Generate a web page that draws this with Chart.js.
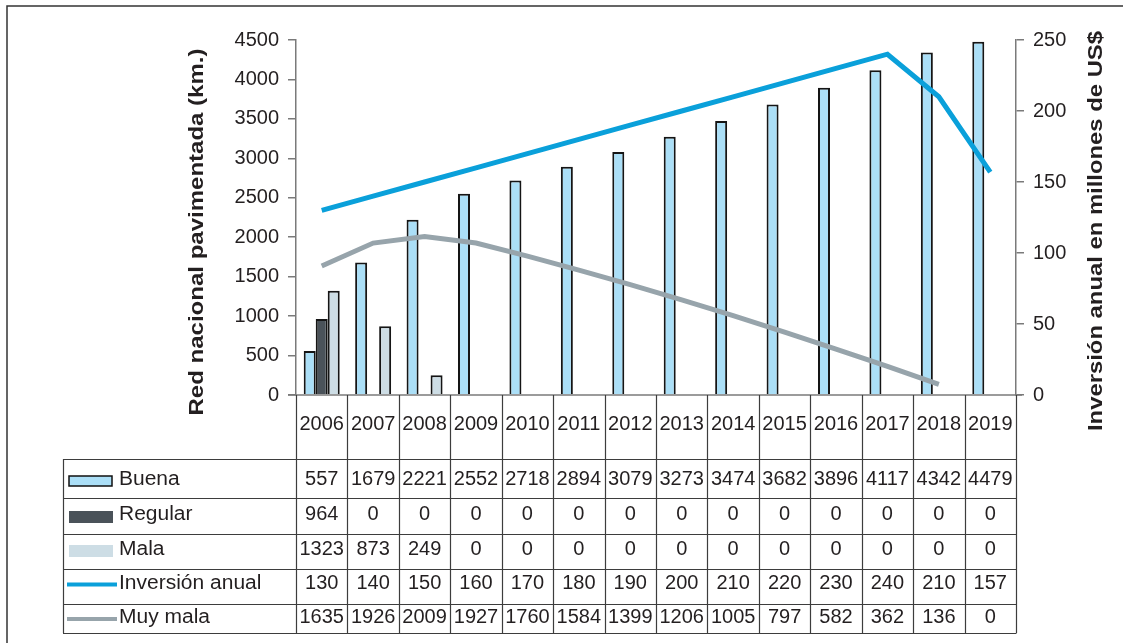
<!DOCTYPE html>
<html>
<head>
<meta charset="utf-8">
<script src="https://cdn.jsdelivr.net/npm/chart.js@4.4.1/dist/chart.umd.min.js"></script>
<style>
  html, body { margin: 0; padding: 0; background: #ffffff; }
  #wrap { width: 1123px; height: 643px; position: relative; }
</style>
</head>
<body>
<div id="wrap"><canvas id="chart" width="1123" height="643"></canvas></div>
<script>
// ---- data ----
const years = ['2006', '2007', '2008', '2009', '2010', '2011', '2012', '2013', '2014', '2015', '2016', '2017', '2018', '2019'];
const buena = [557, 1679, 2221, 2552, 2718, 2894, 3079, 3273, 3474, 3682, 3896, 4117, 4342, 4479];
const regular = [964, 0, 0, 0, 0, 0, 0, 0, 0, 0, 0, 0, 0, 0];
const mala = [1323, 873, 249, 0, 0, 0, 0, 0, 0, 0, 0, 0, 0, 0];
const inversion = [130, 140, 150, 160, 170, 180, 190, 200, 210, 220, 230, 240, 210, 157];
const muyMala = [1635, 1926, 2009, 1927, 1760, 1584, 1399, 1206, 1005, 797, 582, 362, 136, 0];

const kmAxis = { min: 0, max: 4500, step: 500 };
const usdAxis = { min: 0, max: 250, step: 50 };

const seriesNames = ['Buena', 'Regular', 'Mala', 'Inversión anual', 'Muy mala'];
const tableRows = [buena, regular, mala, inversion, muyMala];

const leftTitle = 'Red nacional pavimentada (km.)';
const rightTitle = 'Inversión anual en millones de US$';

// The "muy mala" line stops at the last year that still has km in that state.
const muyMalaLine = muyMala.map((v, i) => (i === muyMala.length - 1 && v === 0) ? null : v);

// ---- styling ----
const FONT = '"Liberation Sans", Arial, Helvetica, sans-serif';
const TEXT = '#231f20';
const RULE = '#3d3d3d';
const AXIS = '#7a7a7a';
const C_BUENA = '#abdff7';
const C_REGULAR = '#4a5259';
const C_MALA = '#cddde5';
const C_INV = '#0aa0da';
const C_MUY = '#97a4ab';

// Table geometry (header row with years, then one row per series)
const TABLE = {
  headerBottom: 459,
  rowLines: [459, 498, 534, 569, 604, 633],
  rowText: [479, 514, 549, 583, 617],
  yearText: 424,
  left: 63,
  keyX: 69,
  keyW: 43,
  labelX: 119
};

function stretchedText(ctx, text, x, y, length, font, rotation) {
  ctx.save();
  ctx.font = font;
  const w = ctx.measureText(text).width;
  ctx.translate(x, y);
  ctx.rotate(rotation);
  ctx.scale(length / w, 1);
  ctx.textAlign = 'center';
  ctx.textBaseline = 'alphabetic';
  ctx.fillStyle = TEXT;
  ctx.fillText(text, 0, 0);
  ctx.restore();
}

function wideText(ctx, text, x, y, align, sx) {
  ctx.save();
  ctx.translate(x, y);
  ctx.scale(sx, 1);
  ctx.textAlign = align;
  ctx.textBaseline = 'middle';
  ctx.fillText(text, 0, 0);
  ctx.restore();
}

const tablePlugin = {
  id: 'dataTable',
  afterDraw(chart) {
    const ctx = chart.ctx;
    const xs = chart.scales.x;
    const area = chart.chartArea;
    const n = years.length;
    const cw = xs.getPixelForValue(1) - xs.getPixelForValue(0);
    const edge = i => xs.getPixelForValue(0) - cw / 2 + i * cw;
    const bottom = TABLE.rowLines[TABLE.rowLines.length - 1];

    ctx.save();

    // outer frame (top and left)
    ctx.strokeStyle = '#333333';
    ctx.lineWidth = 1.5;
    ctx.beginPath();
    ctx.moveTo(7, 643);
    ctx.lineTo(7, 6);
    ctx.lineTo(1123, 6);
    ctx.stroke();

    // baseline shared by both value axes
    ctx.strokeStyle = AXIS;
    ctx.lineWidth = 1.5;
    ctx.beginPath();
    ctx.moveTo(area.left - 8, area.bottom);
    ctx.lineTo(area.right + 6, area.bottom);
    ctx.stroke();

    // table rules
    ctx.strokeStyle = RULE;
    ctx.lineWidth = 1.2;
    ctx.beginPath();
    for (let i = 0; i <= n; i++) {
      const x = Math.round(edge(i)) + 0.5;
      ctx.moveTo(x, area.bottom);
      ctx.lineTo(x, bottom);
    }
    TABLE.rowLines.forEach(y => {
      ctx.moveTo(TABLE.left, y + 0.5);
      ctx.lineTo(Math.round(edge(n)) + 0.5, y + 0.5);
    });
    ctx.moveTo(TABLE.left + 0.5, TABLE.headerBottom);
    ctx.lineTo(TABLE.left + 0.5, bottom);
    ctx.stroke();

    // year header
    ctx.fillStyle = TEXT;
    ctx.font = '20px ' + FONT;
    years.forEach((yr, i) => {
      wideText(ctx, yr, xs.getPixelForValue(i), TABLE.yearText, 'center', 1.0);
    });

    // values
    tableRows.forEach((row, r) => {
      row.forEach((v, i) => {
        wideText(ctx, String(v), xs.getPixelForValue(i), TABLE.rowText[r], 'center', 1.0);
      });
    });

    // legend keys + labels
    const ky = TABLE.rowText;
    // Buena: outlined box
    ctx.fillStyle = C_BUENA;
    ctx.fillRect(TABLE.keyX, ky[0] - 3, TABLE.keyW, 10);
    ctx.strokeStyle = '#111111';
    ctx.lineWidth = 1.5;
    ctx.strokeRect(TABLE.keyX, ky[0] - 3, TABLE.keyW, 10);
    // Regular / Mala: solid boxes
    ctx.fillStyle = C_REGULAR;
    ctx.fillRect(TABLE.keyX, ky[1] - 3, TABLE.keyW + 1, 12);
    ctx.fillStyle = C_MALA;
    ctx.fillRect(TABLE.keyX, ky[2] - 4, TABLE.keyW + 1, 12);
    // lines
    ctx.lineWidth = 4;
    ctx.strokeStyle = C_INV;
    ctx.beginPath();
    ctx.moveTo(67, ky[3] + 1.5);
    ctx.lineTo(117, ky[3] + 1.5);
    ctx.stroke();
    ctx.strokeStyle = C_MUY;
    ctx.beginPath();
    ctx.moveTo(67, ky[4] + 2);
    ctx.lineTo(117, ky[4] + 2);
    ctx.stroke();

    ctx.fillStyle = TEXT;
    ctx.font = '20px ' + FONT;
    seriesNames.forEach((name, r) => {
      wideText(ctx, name, TABLE.labelX, ky[r], 'left', 1.05);
    });

    // axis titles, both reading bottom-to-top
    stretchedText(ctx, leftTitle, 203, 232, 367, 'bold 21px ' + FONT, -Math.PI / 2);
    stretchedText(ctx, rightTitle, 1102, 231, 400, 'bold 21px ' + FONT, -Math.PI / 2);

    ctx.restore();
  }
};

const tickFont = { family: FONT, size: 20 };
const plainNumber = v => String(v);

new Chart(document.getElementById('chart'), {
  type: 'bar',
  data: {
    labels: years,
    datasets: [
      {
        type: 'line', label: 'Inversión anual', data: inversion, yAxisID: 'y1',
        borderColor: C_INV, borderWidth: 5, pointRadius: 0, tension: 0,
        borderJoinStyle: 'miter', borderCapStyle: 'butt', fill: false, order: 0
      },
      {
        type: 'line', label: 'Muy mala', data: muyMalaLine, yAxisID: 'y',
        borderColor: C_MUY, borderWidth: 5, pointRadius: 0, tension: 0,
        borderJoinStyle: 'miter', borderCapStyle: 'butt', fill: false, order: 0
      },
      {
        label: 'Buena', data: buena, yAxisID: 'y', backgroundColor: C_BUENA,
        borderColor: '#151515', borderWidth: 2, order: 1
      },
      {
        label: 'Regular', data: regular, yAxisID: 'y', backgroundColor: C_REGULAR,
        borderColor: '#151515', borderWidth: 2, order: 1
      },
      {
        label: 'Mala', data: mala, yAxisID: 'y', backgroundColor: C_MALA,
        borderColor: '#151515', borderWidth: 2, order: 1
      }
    ]
  },
  options: {
    responsive: false,
    animation: false,
    devicePixelRatio: 1,
    layout: { padding: { left: 0, right: 0, top: 40, bottom: 248 } },
    datasets: { bar: { categoryPercentage: 0.7, barPercentage: 1.0 } },
    plugins: { legend: { display: false }, tooltip: { enabled: false } },
    scales: {
      x: { display: false, offset: true, grid: { display: false } },
      y: {
        position: 'left', min: kmAxis.min, max: kmAxis.max,
        ticks: { stepSize: kmAxis.step, font: tickFont, color: TEXT, padding: 9, callback: plainNumber },
        grid: { drawOnChartArea: false, drawTicks: true, tickLength: 8, color: AXIS, lineWidth: 1.5 },
        border: { display: true, color: AXIS, width: 1.5 },
        afterFit(scale) { scale.width = 296; }
      },
      y1: {
        position: 'right', min: usdAxis.min, max: usdAxis.max,
        ticks: { stepSize: usdAxis.step, font: tickFont, color: TEXT, padding: 9, callback: plainNumber },
        grid: { drawOnChartArea: false, drawTicks: true, tickLength: 8, color: AXIS, lineWidth: 1.5 },
        border: { display: true, color: AXIS, width: 1.5 },
        afterFit(scale) { scale.width = 107; }
      }
    }
  },
  plugins: [tablePlugin]
});
</script>
</body>
</html>
